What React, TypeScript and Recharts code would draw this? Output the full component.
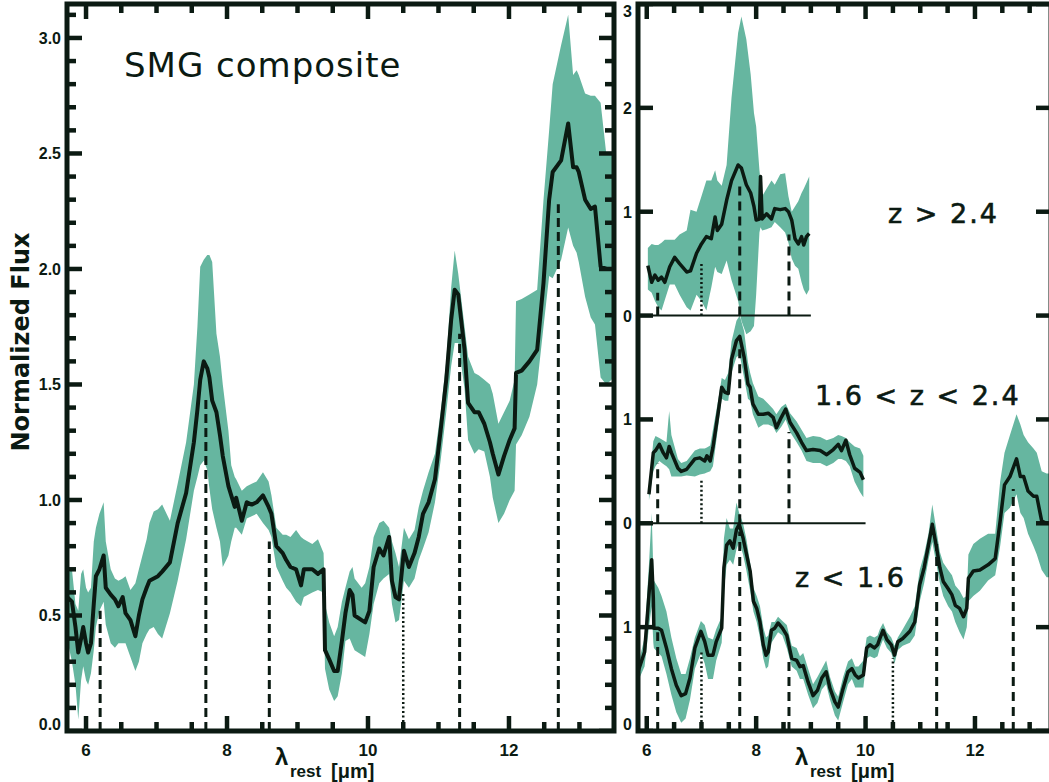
import React from 'react';
import { ComposedChart, Area, Line, XAxis, YAxis, ReferenceLine, ReferenceArea } from 'recharts';

const INK = '#0b1a12';
const TEAL = '#66b6a0';

// ---------- Left panel: SMG composite ----------
const LEFT_WAVE = [
  5.73, 5.80, 5.85, 5.89, 5.93, 5.96, 6.00, 6.03, 6.07, 6.11,
  6.14, 6.19, 6.25, 6.28, 6.35, 6.41, 6.46, 6.52, 6.56, 6.63,
  6.70, 6.75, 6.80, 6.86, 6.90, 6.96, 7.02, 7.08, 7.19, 7.30,
  7.42, 7.53, 7.58, 7.62, 7.67, 7.72, 7.75, 7.79, 7.85, 7.90,
  7.94, 8.02, 8.06, 8.11, 8.13, 8.21, 8.28, 8.35, 8.42, 8.51,
  8.59, 8.63, 8.70, 8.79, 8.84, 8.90, 8.98, 9.05, 9.09, 9.21,
  9.29, 9.37, 9.39, 9.45, 9.52, 9.57, 9.63, 9.68, 9.74, 9.78,
  9.81, 9.91, 9.96, 10.02, 10.08, 10.16, 10.22, 10.30, 10.34, 10.39,
  10.44, 10.51, 10.58, 10.66, 10.72, 10.78, 10.86, 10.95, 11.03, 11.11,
  11.18, 11.23, 11.28, 11.37, 11.42, 11.51, 11.57, 11.65, 11.73, 11.77,
  11.85, 11.93, 12.01, 12.08, 12.10, 12.18, 12.29, 12.40, 12.49, 12.57,
  12.62, 12.74, 12.84, 12.91, 12.96, 12.99, 13.08, 13.16, 13.22, 13.30,
  13.38, 13.49,
];
const LEFT_FLUX = [
  0.58, 0.56, 0.45, 0.34, 0.40, 0.45, 0.38, 0.34, 0.38, 0.55,
  0.67, 0.70, 0.76, 0.62, 0.59, 0.57, 0.54, 0.58, 0.51, 0.48,
  0.41, 0.50, 0.57, 0.62, 0.65, 0.66, 0.67, 0.69, 0.73, 0.90,
  1.03, 1.25, 1.39, 1.52, 1.60, 1.57, 1.53, 1.43, 1.38, 1.28,
  1.19, 1.06, 1.02, 0.97, 1.01, 0.91, 0.99, 0.98, 0.99, 1.02,
  0.97, 0.94, 0.80, 0.77, 0.74, 0.71, 0.70, 0.63, 0.70, 0.70,
  0.68, 0.70, 0.35, 0.31, 0.26, 0.26, 0.39, 0.51, 0.61, 0.59,
  0.50, 0.48, 0.47, 0.52, 0.71, 0.79, 0.76, 0.84, 0.65, 0.58,
  0.57, 0.78, 0.71, 0.77, 0.84, 0.94, 0.99, 1.09, 1.30, 1.52,
  1.78, 1.91, 1.89, 1.65, 1.42, 1.38, 1.38, 1.33, 1.25, 1.20,
  1.11, 1.19, 1.26, 1.31, 1.55, 1.56, 1.60, 1.65, 1.94, 2.30,
  2.42, 2.47, 2.63, 2.44, 2.44, 2.42, 2.30, 2.26, 2.27, 2.01,
  2.00, 2.00,
];
const LEFT_LO = [
  0.40, 0.30, 0.20, 0.05, 0.22, 0.28, 0.22, 0.20, 0.25, 0.35,
  0.45, 0.52, 0.56, 0.46, 0.38, 0.36, 0.38, 0.38, 0.38, 0.32,
  0.26, 0.30, 0.38, 0.42, 0.44, 0.45, 0.42, 0.40, 0.51, 0.65,
  0.83, 1.04, 1.10, 1.15, 1.17, 1.13, 1.05, 0.96, 0.88, 0.82,
  0.71, 0.76, 0.82, 0.88, 0.88, 0.85, 0.92, 0.93, 0.94, 0.90,
  0.87, 0.84, 0.71, 0.65, 0.62, 0.60, 0.56, 0.54, 0.58, 0.60,
  0.61, 0.60, 0.27, 0.18, 0.13, 0.15, 0.25, 0.39, 0.40, 0.37,
  0.35, 0.33, 0.32, 0.42, 0.55, 0.64, 0.66, 0.68, 0.55, 0.47,
  0.48, 0.65, 0.62, 0.66, 0.74, 0.79, 0.86, 0.99, 1.17, 1.38,
  1.58, 1.68, 1.68, 1.48, 1.26, 1.20, 1.22, 1.21, 1.10, 1.01,
  0.90, 0.94, 1.00, 1.04, 1.24, 1.28, 1.36, 1.50, 1.75, 1.97,
  1.96, 2.04, 2.18, 2.10, 2.07, 2.03, 1.88, 1.79, 1.76, 1.53,
  1.50, 1.53,
];
const LEFT_HI = [
  0.68, 0.70, 0.55, 0.52, 0.68, 0.70, 0.62, 0.60, 0.62, 0.82,
  0.88, 0.94, 0.99, 0.82, 0.70, 0.66, 0.65, 0.66, 0.67, 0.61,
  0.64, 0.70, 0.76, 0.83, 0.90, 0.95, 0.96, 0.98, 0.91, 1.07,
  1.25, 1.50, 1.75, 2.01, 2.04, 2.06, 2.06, 2.03, 1.72, 1.62,
  1.50, 1.30, 1.15, 1.10, 1.09, 1.04, 1.06, 1.07, 1.08, 1.12,
  1.08, 1.02, 0.88, 0.85, 0.85, 0.84, 0.87, 0.84, 0.83, 0.81,
  0.83, 0.77, 0.55, 0.47, 0.41, 0.45, 0.56, 0.62, 0.69, 0.71,
  0.66, 0.62, 0.64, 0.71, 0.84, 0.90, 0.91, 0.88, 0.82, 0.77,
  0.71, 0.88, 0.83, 0.87, 0.97, 1.04, 1.12, 1.20, 1.38, 1.60,
  1.92, 2.08, 1.98, 1.75, 1.62, 1.55, 1.54, 1.52, 1.50, 1.46,
  1.33, 1.38, 1.43, 1.52, 1.86, 1.87, 1.89, 1.91, 2.30, 2.60,
  2.80, 2.97, 3.10, 2.84, 2.86, 2.84, 2.76, 2.75, 2.75, 2.72,
  2.50, 2.50,
];

// ---------- Right panel: z > 2.4 ----------
const HIGH_Z_WAVE = [
  6.02, 6.09, 6.15, 6.21, 6.27, 6.33, 6.42, 6.51, 6.60, 6.73,
  6.80, 6.91, 7.00, 7.09, 7.18, 7.25, 7.29, 7.37, 7.46, 7.55,
  7.67, 7.73, 7.82, 7.90, 7.96, 8.00, 8.06, 8.08, 8.11, 8.19,
  8.28, 8.34, 8.44, 8.53, 8.59, 8.65, 8.71, 8.77, 8.83, 8.87,
  8.92, 8.97,
];
const HIGH_Z_FLUX = [
  0.48, 0.32, 0.39, 0.34, 0.37, 0.32, 0.47, 0.56, 0.50, 0.42,
  0.43, 0.60, 0.69, 0.76, 0.74, 0.95, 0.82, 0.88, 1.11, 1.30,
  1.45, 1.42, 1.26, 1.18, 1.05, 0.92, 0.93, 1.34, 0.93, 0.98,
  0.93, 1.03, 1.02, 1.03, 1.00, 0.92, 0.74, 0.69, 0.76, 0.68,
  0.76, 0.79,
];
const HIGH_Z_LO = [
  0.25, 0.22, 0.14, 0.08, 0.05, 0.15, 0.30, 0.30, 0.20, 0.08,
  0.05, 0.20, 0.14, 0.05, 0.27, 0.47, 0.42, 0.40, 0.53, 0.34,
  0.14, -0.05, -0.18, -0.15, -0.10, 0.20, 0.80, 0.85, 0.82, 0.83,
  0.85, 0.90, 0.85, 0.80, 0.70, 0.55, 0.48, 0.45, 0.32, 0.25,
  0.20, 0.25,
];
const HIGH_Z_HI = [
  0.65, 0.69, 0.68, 0.68, 0.70, 0.73, 0.73, 0.73, 0.78, 0.82,
  1.02, 1.00, 1.15, 1.30, 1.30, 1.40, 1.30, 1.25, 1.45, 2.10,
  2.72, 2.88, 2.66, 2.32, 1.95, 1.82, 1.40, 1.30, 1.15, 1.22,
  1.30, 1.26, 1.36, 1.37, 1.15, 1.00, 1.05, 1.10, 1.18, 1.22,
  1.28, 1.34,
];

// ---------- Right panel: 1.6 < z < 2.4 ----------
const MID_Z_WAVE = [
  6.04, 6.12, 6.16, 6.23, 6.30, 6.36, 6.41, 6.45, 6.57, 6.63,
  6.73, 6.88, 6.97, 7.06, 7.10, 7.16, 7.21, 7.31, 7.37, 7.43,
  7.49, 7.55, 7.64, 7.70, 7.78, 7.85, 7.89, 7.94, 8.04, 8.13,
  8.22, 8.31, 8.37, 8.46, 8.54, 8.62, 8.74, 8.83, 8.92, 9.04,
  9.17, 9.29, 9.41, 9.50, 9.56, 9.64, 9.71, 9.80, 9.90, 9.96,
];
const MID_Z_FLUX = [
  0.28, 0.68, 0.70, 0.76, 0.68, 0.63, 0.74, 0.68, 0.53, 0.50,
  0.52, 0.62, 0.63, 0.60, 0.65, 0.60, 0.73, 1.08, 1.31, 1.26,
  1.25, 1.58, 1.76, 1.80, 1.60, 1.34, 1.31, 1.15, 1.05, 1.05,
  1.06, 1.02, 0.92, 1.02, 1.10, 0.97, 0.87, 0.78, 0.70, 0.71,
  0.70, 0.66, 0.71, 0.76, 0.70, 0.80, 0.66, 0.53, 0.49, 0.42,
];
const MID_Z_LO = [
  0.22, 0.50, 0.55, 0.60, 0.57, 0.55, 0.52, 0.45, 0.45, 0.45,
  0.46, 0.45, 0.47, 0.48, 0.49, 0.50, 0.55, 0.95, 1.20, 1.18,
  1.18, 1.45, 1.60, 1.62, 1.40, 1.20, 1.18, 1.05, 0.92, 0.95,
  0.95, 0.93, 0.87, 0.93, 1.00, 0.88, 0.78, 0.70, 0.60, 0.58,
  0.58, 0.55, 0.58, 0.62, 0.62, 0.60, 0.55, 0.40, 0.30, 0.25,
];
const MID_Z_HI = [
  0.35, 0.79, 0.84, 0.82, 0.80, 0.78, 1.08, 0.85, 0.62, 0.58,
  0.60, 0.70, 0.72, 0.72, 0.73, 0.75, 0.90, 1.20, 1.40, 1.38,
  1.45, 1.75, 1.95, 2.00, 1.85, 1.55, 1.45, 1.35, 1.22, 1.20,
  1.15, 1.10, 1.05, 1.12, 1.15, 1.06, 0.98, 0.90, 0.82, 0.84,
  0.83, 0.80, 0.82, 0.85, 0.84, 0.82, 0.78, 0.74, 0.72, 0.65,
];

// ---------- Right panel: z < 1.6 ----------
const LOW_Z_WAVE = [
  5.84, 5.96, 6.04, 6.09, 6.12, 6.13, 6.21, 6.27, 6.36, 6.45,
  6.54, 6.63, 6.71, 6.79, 6.88, 6.99, 7.06, 7.12, 7.21, 7.27,
  7.37, 7.41, 7.46, 7.52, 7.58, 7.64, 7.69, 7.76, 7.82, 7.89,
  7.95, 8.01, 8.07, 8.13, 8.18, 8.22, 8.28, 8.34, 8.40, 8.48,
  8.56, 8.65, 8.74, 8.80, 8.86, 8.95, 9.04, 9.12, 9.20, 9.28,
  9.35, 9.44, 9.50, 9.59, 9.68, 9.75, 9.81, 9.87, 9.96, 10.02,
  10.08, 10.16, 10.22, 10.26, 10.32, 10.39, 10.47, 10.53, 10.59, 10.68,
  10.81, 10.90, 10.99, 11.07, 11.15, 11.22, 11.29, 11.36, 11.42, 11.51,
  11.58, 11.64, 11.72, 11.79, 11.85, 11.88, 11.97, 12.09, 12.24, 12.37,
  12.46, 12.54, 12.64, 12.76, 12.83, 12.89, 12.97, 13.07, 13.13, 13.22,
  13.31, 13.39,
];
const LOW_Z_FLUX = [
  0.57, 0.76, 1.31, 1.65, 1.28, 0.99, 0.99, 0.97, 0.80, 0.60,
  0.44, 0.34, 0.36, 0.51, 0.80, 0.96, 0.86, 0.73, 0.73, 0.86,
  0.99, 1.57, 1.79, 1.83, 1.76, 1.94, 1.99, 1.86, 1.71, 1.54,
  1.25, 1.18, 1.05, 0.83, 0.73, 0.76, 0.97, 0.99, 1.04, 0.99,
  0.92, 0.70, 0.68, 0.62, 0.63, 0.47, 0.34, 0.39, 0.51, 0.57,
  0.41, 0.28, 0.23, 0.41, 0.57, 0.60, 0.54, 0.51, 0.54, 0.80,
  0.83, 0.80, 0.83, 0.89, 0.97, 0.88, 0.83, 0.73, 0.86, 0.89,
  0.96, 1.05, 1.41, 1.57, 1.79, 1.99, 1.79, 1.57, 1.44, 1.37,
  1.31, 1.21, 1.18, 1.10, 1.18, 1.47, 1.54, 1.55, 1.60, 1.66,
  2.02, 2.37, 2.45, 2.62, 2.45, 2.45, 2.31, 2.26, 2.26, 2.02,
  2.00, 2.00,
];
const LOW_Z_LO = [
  0.48, 0.62, 1.00, 1.20, 0.85, 0.80, 0.75, 0.72, 0.55, 0.35,
  0.18, 0.08, 0.12, 0.30, 0.60, 0.75, 0.65, 0.50, 0.50, 0.68,
  0.85, 1.35, 1.60, 1.65, 1.60, 1.75, 1.82, 1.70, 1.55, 1.35,
  1.15, 1.05, 0.90, 0.70, 0.60, 0.62, 0.85, 0.90, 0.95, 0.92,
  0.80, 0.62, 0.58, 0.50, 0.50, 0.35, 0.22, 0.27, 0.40, 0.45,
  0.30, 0.15, 0.10, 0.28, 0.45, 0.50, 0.42, 0.42, 0.42, 0.70,
  0.72, 0.70, 0.72, 0.80, 0.88, 0.80, 0.75, 0.65, 0.78, 0.82,
  0.85, 0.92, 1.25, 1.42, 1.65, 1.82, 1.62, 1.42, 1.30, 1.20,
  1.15, 1.05, 0.95, 0.88, 1.00, 1.25, 1.30, 1.35, 1.45, 1.50,
  1.78, 2.10, 2.15, 2.28, 2.10, 2.05, 1.90, 1.78, 1.70, 1.55,
  1.48, 1.48,
];
const LOW_Z_HI = [
  0.63, 0.90, 1.60, 2.10, 1.55, 1.45, 1.38, 1.30, 1.15, 0.90,
  0.70, 0.55, 0.55, 0.70, 0.90, 1.06, 1.02, 0.90, 0.88, 0.98,
  1.10, 1.85, 2.05, 1.95, 1.95, 2.20, 2.10, 2.00, 1.85, 1.62,
  1.38, 1.30, 1.20, 1.00, 0.90, 0.92, 1.05, 1.05, 1.10, 1.06,
  1.02, 0.82, 0.80, 0.72, 0.75, 0.60, 0.45, 0.52, 0.60, 0.68,
  0.52, 0.38, 0.33, 0.52, 0.67, 0.70, 0.62, 0.62, 0.68, 0.90,
  0.92, 0.90, 0.92, 0.98, 1.04, 0.95, 0.90, 0.82, 0.90, 0.98,
  1.10, 1.20, 1.55, 1.70, 1.90, 2.18, 1.95, 1.72, 1.62, 1.55,
  1.50, 1.40, 1.35, 1.28, 1.30, 1.70, 1.80, 1.85, 1.90, 1.90,
  2.40, 2.68, 2.85, 3.05, 2.95, 2.85, 2.78, 2.72, 2.68, 2.50,
  2.48, 2.48,
];

// vertical offsets of the stacked spectra (right panel)
const LOW_Z_OFFSET = 0;
const MID_Z_OFFSET = 2;
const HIGH_Z_OFFSET = 4;
const MID_Z_BASE_END = 10.0;
const HIGH_Z_BASE_END = 9.0;

// PAH / feature markers
const FEATURE_WAVES = [6.2, 7.0, 7.7, 8.6, 10.5, 11.3, 12.7];
const FEATURE_DOTTED = [false, true, false, false, true, false, false];
const LEFT_FEATURE_TOP = [0.52, null, 1.45, 0.82, 0.6, 1.72, 2.28];
const LOW_Z_FEATURE_TOP = [0.95, 0.78, 1.92, 0.72, 0.7, 1.8, 2.33];
const MID_Z_FEATURE_TOP = [0.58, 0.42, 1.72, 0.88, null, null, null];
const HIGH_Z_FEATURE_TOP = [0.22, 0.52, 1.3, 0.78, null, null, null];

// ticks
const X_TICKS = [6, 6.5, 7, 7.5, 8, 8.5, 9, 9.5, 10, 10.5, 11, 11.5, 12, 12.5, 13];
const X_MAJOR = [6, 8, 10, 12];
const LEFT_Y_TICKS = [
  0, 0.1, 0.2, 0.3, 0.4, 0.5, 0.6, 0.7, 0.8, 0.9, 1, 1.1, 1.2, 1.3, 1.4, 1.5,
  1.6, 1.7, 1.8, 1.9, 2, 2.1, 2.2, 2.3, 2.4, 2.5, 2.6, 2.7, 2.8, 2.9, 3, 3.1,
];
const LEFT_Y_MAJOR = [0, 0.5, 1, 1.5, 2, 2.5, 3];
const RIGHT_Y_TICKS = [0, 1, 2, 3, 4, 5, 6, 7];
const RIGHT_Y_LABELS = ['0', '1', '0', '1', '0', '1', '2', '3'];

const LEFT_X_DOMAIN: [number, number] = [5.73, 13.49];
const LEFT_Y_DOMAIN: [number, number] = [0, 3.147];
const RIGHT_X_DOMAIN: [number, number] = [5.84, 13.39];
const RIGHT_Y_DOMAIN: [number, number] = [0, 7];

// chart geometry (pixels)
const CHART_H = 782;
const TOP_M = 4;
const X_AXIS_H = 51;
const LEFT_CHART_W = 620;
const LEFT_Y_AXIS_W = 67;
const LEFT_RIGHT_M = 6;
const RIGHT_CHART_W = 455;
const RIGHT_Y_AXIS_W = 38;
const RIGHT_RIGHT_M = 4;
const PLOT_H = CHART_H - TOP_M - X_AXIS_H;
const LEFT_PLOT_W = LEFT_CHART_W - LEFT_Y_AXIS_W - LEFT_RIGHT_M;
const RIGHT_PLOT_W = RIGHT_CHART_W - RIGHT_Y_AXIS_W - RIGHT_RIGHT_M;
const MAJOR_LEN = 15;
const MINOR_LEN = 9;
const TICK_W = 4.5;

const buildRows = (xs: number[], f: number[], lo: number[], hi: number[], off = 0) =>
  xs.map((x, i) => ({ x, y: f[i] + off, band: [lo[i] + off, hi[i] + off] }));

const leftRows = buildRows(LEFT_WAVE, LEFT_FLUX, LEFT_LO, LEFT_HI);
const lowRows = buildRows(LOW_Z_WAVE, LOW_Z_FLUX, LOW_Z_LO, LOW_Z_HI, LOW_Z_OFFSET);
const midRows = buildRows(MID_Z_WAVE, MID_Z_FLUX, MID_Z_LO, MID_Z_HI, MID_Z_OFFSET);
const highRows = buildRows(HIGH_Z_WAVE, HIGH_Z_FLUX, HIGH_Z_LO, HIGH_Z_HI, HIGH_Z_OFFSET);

const TICK_FONT = "'Liberation Sans', Arial, sans-serif";
const near = (arr: number[], v: number) => arr.some((m) => Math.abs(m - v) < 1e-6);

function xLabelTick(majors: number[]) {
  return (p: any) => {
    const v = p.payload.value;
    if (!near(majors, v)) return <g />;
    return (
      <text x={p.x} y={p.y + 25} textAnchor="middle" fontFamily={TICK_FONT} fontWeight="bold" fontSize={17} fill={INK}>
        {String(v)}
      </text>
    );
  };
}

function yLabelTick(majors: number[], labeler: (v: number) => string, bottomY: number) {
  return (p: any) => {
    const v = p.payload.value;
    if (!near(majors, v)) return <g />;
    const base = Math.min(Math.max(p.y + 6, 17), bottomY - 1);
    return (
      <text x={p.x - 6} y={base} textAnchor="end" fontFamily={TICK_FONT} fontWeight="bold" fontSize={16} fill={INK}>
        {labeler(v)}
      </text>
    );
  };
}

// inward tick marks on all four sides, drawn as tiny two-point series through the chart's scales
function tickMarks(
  id: string,
  xTicks: number[], xMajors: number[], yTicks: number[], yMajors: number[],
  xDom: [number, number], yDom: [number, number], plotW: number, plotH: number,
) {
  const xPx = plotW / (xDom[1] - xDom[0]);
  const yPx = plotH / (yDom[1] - yDom[0]);
  const segs: { k: string; pts: { x: number; y: number }[] }[] = [];
  xTicks.forEach((t) => {
    const len = (near(xMajors, t) ? MAJOR_LEN : MINOR_LEN) / yPx;
    segs.push({ k: `b${t}`, pts: [{ x: t, y: yDom[0] }, { x: t, y: yDom[0] + len }] });
    segs.push({ k: `t${t}`, pts: [{ x: t, y: yDom[1] }, { x: t, y: yDom[1] - len }] });
  });
  yTicks.forEach((t) => {
    const len = (near(yMajors, t) ? MAJOR_LEN : MINOR_LEN) / xPx;
    segs.push({ k: `l${t}`, pts: [{ x: xDom[0], y: t }, { x: xDom[0] + len, y: t }] });
    segs.push({ k: `r${t}`, pts: [{ x: xDom[1], y: t }, { x: xDom[1] - len, y: t }] });
  });
  return segs.map((s) => (
    <Line
      key={`${id}-${s.k}`}
      data={s.pts}
      dataKey="y"
      stroke={INK}
      strokeWidth={TICK_W}
      dot={false}
      isAnimationActive={false}
    />
  ));
}

function featureLines(tops: (number | null)[], offset: number, dashed: string, width: number) {
  return FEATURE_WAVES.map((w, i) => {
    const t = tops[i];
    if (t === null || t === undefined) return null;
    return (
      <ReferenceLine
        key={`f-${offset}-${i}`}
        segment={[{ x: w, y: offset }, { x: w, y: t + offset }]}
        stroke={INK}
        strokeWidth={FEATURE_DOTTED[i] ? 2.5 : width}
        strokeDasharray={FEATURE_DOTTED[i] ? '2 2.5' : dashed}
        ifOverflow="visible"
      />
    );
  });
}

function Spectrum(rows: any[], key: string, lw: number) {
  return [
    <Area
      key={key + '-band'}
      data={rows}
      dataKey="band"
      type="linear"
      stroke="none"
      fill={TEAL}
      fillOpacity={1}
      dot={false}
      activeDot={false}
      isAnimationActive={false}
    />,
    <Line
      key={key + '-line'}
      data={rows}
      dataKey="y"
      type="linear"
      stroke={INK}
      strokeWidth={lw}
      strokeLinejoin="round"
      dot={false}
      activeDot={false}
      isAnimationActive={false}
    />,
  ];
}

function Frame(xDom: [number, number], yDom: [number, number]) {
  return (
    <ReferenceArea
      x1={xDom[0]}
      x2={xDom[1]}
      y1={yDom[0]}
      y2={yDom[1]}
      fill="none"
      stroke={INK}
      strokeWidth={5}
      ifOverflow="visible"
    />
  );
}

function LeftPanel() {
  return (
    <ComposedChart width={LEFT_CHART_W} height={CHART_H} margin={{ top: TOP_M, right: LEFT_RIGHT_M, bottom: 0, left: 0 }}>
      <XAxis
        dataKey="x"
        type="number"
        domain={LEFT_X_DOMAIN}
        allowDataOverflow
        ticks={X_MAJOR}
        interval={0}
        height={X_AXIS_H}
        tickSize={0}
        tickMargin={0}
        axisLine={false}
        tickLine={false}
        tick={xLabelTick(X_MAJOR)}
      />
      <YAxis
        type="number"
        domain={LEFT_Y_DOMAIN}
        allowDataOverflow
        ticks={LEFT_Y_MAJOR}
        interval={0}
        width={LEFT_Y_AXIS_W}
        tickSize={0}
        tickMargin={0}
        axisLine={false}
        tickLine={false}
        tick={yLabelTick(LEFT_Y_MAJOR, (v) => v.toFixed(1), TOP_M + PLOT_H)}
      />
      {Spectrum(leftRows, 'left', 4)}
      {featureLines(LEFT_FEATURE_TOP, 0, '9 5', 3)}
      {tickMarks('L', X_TICKS, X_MAJOR, LEFT_Y_TICKS, LEFT_Y_MAJOR, LEFT_X_DOMAIN, LEFT_Y_DOMAIN, LEFT_PLOT_W, PLOT_H)}
      {Frame(LEFT_X_DOMAIN, LEFT_Y_DOMAIN)}
    </ComposedChart>
  );
}

function RightPanel() {
  return (
    <ComposedChart width={RIGHT_CHART_W} height={CHART_H} margin={{ top: TOP_M, right: RIGHT_RIGHT_M, bottom: 0, left: 0 }}>
      <XAxis
        dataKey="x"
        type="number"
        domain={RIGHT_X_DOMAIN}
        allowDataOverflow
        ticks={X_MAJOR}
        interval={0}
        height={X_AXIS_H}
        tickSize={0}
        tickMargin={0}
        axisLine={false}
        tickLine={false}
        tick={xLabelTick(X_MAJOR)}
      />
      <YAxis
        type="number"
        domain={RIGHT_Y_DOMAIN}
        allowDataOverflow
        ticks={RIGHT_Y_TICKS}
        interval={0}
        width={RIGHT_Y_AXIS_W}
        tickSize={0}
        tickMargin={0}
        axisLine={false}
        tickLine={false}
        tick={yLabelTick(RIGHT_Y_TICKS, (v) => RIGHT_Y_LABELS[RIGHT_Y_TICKS.indexOf(v)] ?? '', TOP_M + PLOT_H)}
      />
      {Spectrum(lowRows, 'low', 3.5)}
      {Spectrum(midRows, 'mid', 3.5)}
      {Spectrum(highRows, 'high', 3.5)}
      <ReferenceLine
        segment={[{ x: RIGHT_X_DOMAIN[0], y: MID_Z_OFFSET }, { x: MID_Z_BASE_END, y: MID_Z_OFFSET }]}
        stroke={INK}
        strokeWidth={2}
        ifOverflow="visible"
      />
      <ReferenceLine
        segment={[{ x: RIGHT_X_DOMAIN[0], y: HIGH_Z_OFFSET }, { x: HIGH_Z_BASE_END, y: HIGH_Z_OFFSET }]}
        stroke={INK}
        strokeWidth={2}
        ifOverflow="visible"
      />
      {featureLines(LOW_Z_FEATURE_TOP, LOW_Z_OFFSET, '9 6', 3)}
      {featureLines(MID_Z_FEATURE_TOP, MID_Z_OFFSET, '9 6', 3)}
      {featureLines(HIGH_Z_FEATURE_TOP, HIGH_Z_OFFSET, '9 6', 3)}
      {tickMarks('R', X_TICKS, X_MAJOR, RIGHT_Y_TICKS, RIGHT_Y_TICKS, RIGHT_X_DOMAIN, RIGHT_Y_DOMAIN, RIGHT_PLOT_W, PLOT_H)}
      {Frame(RIGHT_X_DOMAIN, RIGHT_Y_DOMAIN)}
    </ComposedChart>
  );
}

function XLabel({ x }: { x: number }) {
  return (
    <text fontFamily={TICK_FONT} fontWeight="bold" fill={INK}>
      <tspan x={x} y={765} fontSize={24}>λ</tspan>
      <tspan x={x + 15} y={777} fontSize={17}>rest</tspan>
      <tspan x={x + 56} y={778} fontSize={20}>[μm]</tspan>
    </text>
  );
}

export default function App() {
  const label = { fontFamily: "'DejaVu Sans', sans-serif", fill: INK } as const;
  return (
    <div style={{ position: 'absolute', left: 0, top: 0, width: 1049, height: 782, overflow: 'hidden', background: '#fff' }}>
      <div style={{ position: 'absolute', left: 0, top: 0 }}>
        <LeftPanel />
      </div>
      <div style={{ position: 'absolute', left: 600, top: 0 }}>
        <RightPanel />
      </div>
      <svg width={1049} height={782} style={{ position: 'absolute', left: 0, top: 0, pointerEvents: 'none' }}>
        <text x={124} y={77} fontSize={34} letterSpacing={1} {...label}>SMG composite</text>
        <text transform="translate(29,342) rotate(-90)" textAnchor="middle" fontSize={24} fontWeight="bold" {...label}>
          Normalized Flux
        </text>
        <XLabel x={275} />
        <XLabel x={795} />
        <text x={888} y={223} fontSize={27} letterSpacing={2} stroke={INK} strokeWidth={0.6} {...label}>z &gt; 2.4</text>
        <text x={815} y={405} fontSize={27} letterSpacing={2} stroke={INK} strokeWidth={0.6} {...label}>1.6 &lt; z &lt; 2.4</text>
        <text x={795} y={587} fontSize={27} letterSpacing={2} stroke={INK} strokeWidth={0.6} {...label}>z &lt; 1.6</text>
      </svg>
    </div>
  );
}
